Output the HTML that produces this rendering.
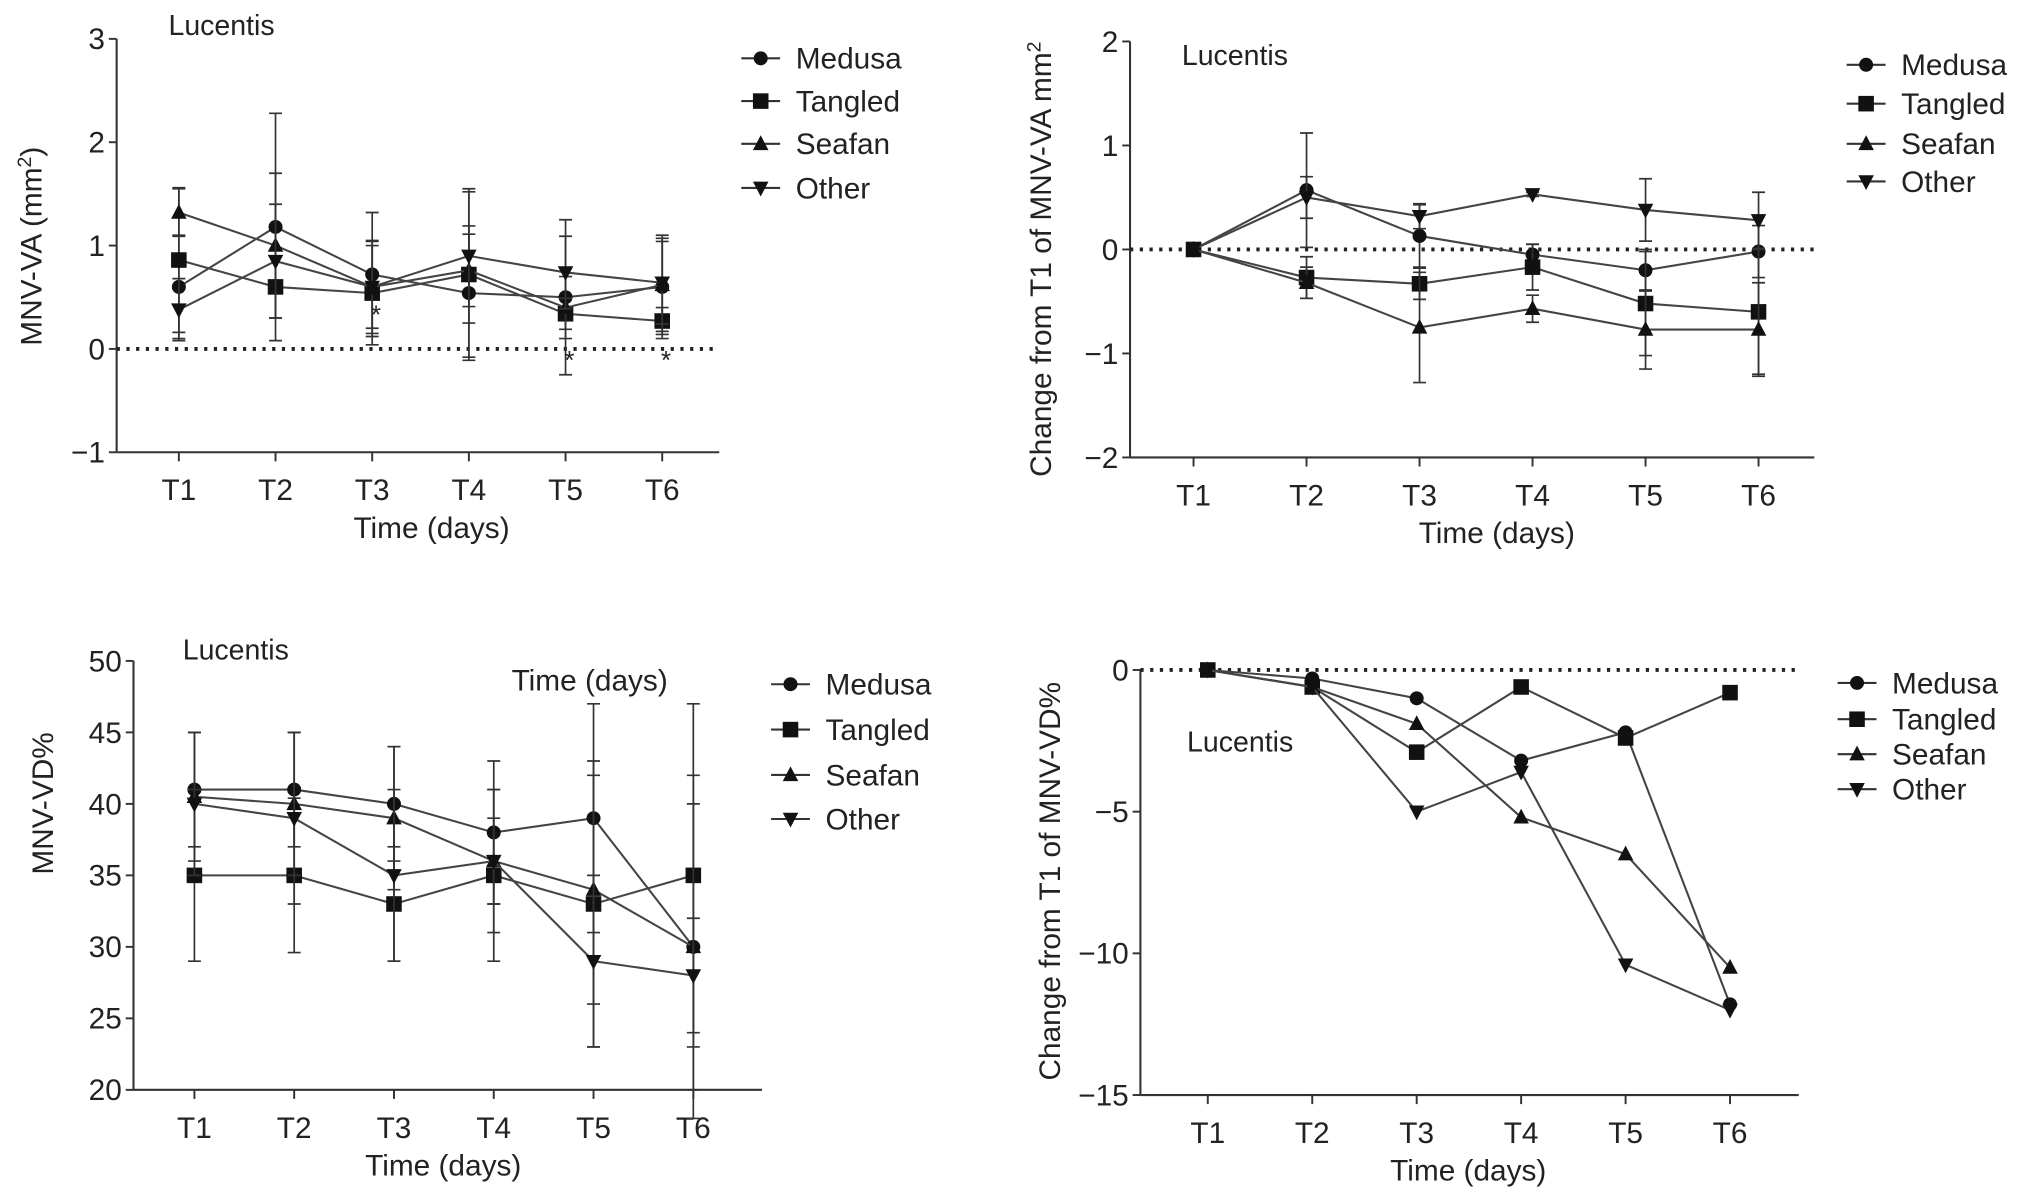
<!DOCTYPE html>
<html><head><meta charset="utf-8"><style>
html,body{margin:0;padding:0;background:#fff}
svg{display:block}
text{font-family:"Liberation Sans",sans-serif;fill:#222}
</style></head><body>
<svg id="fig" width="2032" height="1200" viewBox="0 0 1568 926" xmlns="http://www.w3.org/2000/svg"></svg>
<script>
const categories = ["T1","T2","T3","T4","T5","T6"];
const seriesNames = ["Medusa","Tangled","Seafan","Other"];
const markers = ["circle","square","up","down"];
// Panel A: MNV-VA
const aMedusa = [0.6,1.18,0.72,0.54,0.5,0.6];
const aTangled = [0.86,0.6,0.54,0.72,0.34,0.27];
const aSeafan = [1.32,1.0,0.6,0.76,0.4,0.62];
const aOther = [0.38,0.85,0.6,0.9,0.74,0.64];
const aErrMedusa = [0.5,1.1,0.6,0.65,0.75,0.5];
const aErrTangled = [0.7,0.3,0.5,0.8,0.15,0.13];
const aErrSeafan = [0.23,0.7,0.45,0.35,0.3,0.45];
const aErrOther = [0.3,0.55,0.4,0.65,0.35,0.4];
const aTicks = [3,2,1,0,-1];
const aTickLabels = ["3","2","1","0","\u22121"];
// Panel B: change MNV-VA
const bMedusa = [0,0.57,0.13,-0.05,-0.2,-0.02];
const bTangled = [0,-0.27,-0.33,-0.17,-0.52,-0.6];
const bSeafan = [0,-0.32,-0.75,-0.57,-0.77,-0.77];
const bOther = [0,0.5,0.32,0.53,0.38,0.28];
const bErrMedusa = [0,0.55,0.3,0.1,0.2,0.25];
const bErrTangled = [0,0.2,0.15,0.22,0.5,0.6];
const bErrSeafan = [0,0.15,0.53,0.13,0.38,0.45];
const bErrOther = [0,0.2,0.12,0.02,0.3,0.27];
const bTicks = [2,1,0,-1,-2];
const bTickLabels = ["2","1","0","\u22121","\u22122"];
// Panel C: MNV-VD%
const cMedusa = [41,41,40,38,39,30];
const cTangled = [35,35,33,35,33,35];
const cSeafan = [40.5,40,39,36,34,30];
const cOther = [40,39,35,36,29,28];
const cErrMedusa = [4,4,4,5,8,10];
const cErrTangled = [6,5.4,4,6,10,12];
const cErrSeafan = [4.5,5,5,5,8,12];
const cErrOther = [5,6,6,3,6,4];
const cTicks = [50,45,40,35,30,25,20];
const cTickLabels = ["50","45","40","35","30","25","20"];
// Panel D: change MNV-VD%
const dMedusa = [0,-0.3,-1,-3.2,-2.2,-11.8];
const dTangled = [0,-0.6,-2.9,-0.6,-2.4,-0.8];
const dSeafan = [0,-0.6,-1.9,-5.2,-6.5,-10.5];
const dOther = [0,-0.6,-5,-3.6,-10.4,-12];
const dTicks = [0,-5,-10,-15];
const dTickLabels = ["0","\u22125","\u221210","\u221215"];

const NS="http://www.w3.org/2000/svg";
const svg=document.getElementById('fig');
function el(tag,attrs,parent){const e=document.createElementNS(NS,tag);for(const k in attrs)e.setAttribute(k,attrs[k]);(parent||svg).appendChild(e);return e;}
function txt(s,attrs,parent){const t=el('text',attrs,parent);t.textContent=s;return t;}
function marker(g,type,x,y,s){
  let m;
  if(type==="circle") m=el('circle',{cx:x,cy:y,r:s*0.9,fill:'#111'},g);
  else if(type==="square") m=el('rect',{x:x-s,y:y-s,width:2*s,height:2*s,fill:'#111'},g);
  else if(type==="up") m=el('polygon',{points:`${x},${y-s*1.1} ${x-s},${y+s*0.8} ${x+s},${y+s*0.8}`,fill:'#111'},g);
  else m=el('polygon',{points:`${x},${y+s*1.1} ${x-s},${y-s*0.8} ${x+s},${y-s*0.8}`,fill:'#111'},g);
  return m;
}
function panel(cfg){
  const g=el('g',{});
  
  
  const ymin=cfg.ymin,ymax=cfg.ymax;
  const Y=v=>cfg.y1+(ymax-v)/(ymax-ymin)*(cfg.y0-cfg.y1);
  const X=i=>cfg.xt1+i*(cfg.xt6-cfg.xt1)/(categories.length-1);
  const ya=el('line',{x1:cfg.ax,y1:Y(ymax),x2:cfg.ax,y2:cfg.y0,stroke:'#333','stroke-width':1.6},g);
  
  const xa=el('line',{x1:cfg.ax,y1:cfg.y0,x2:cfg.axEnd,y2:cfg.y0,stroke:'#333','stroke-width':1.6},g);
  
  cfg.ticks.forEach((v,i)=>{
    el('line',{x1:cfg.ax-6,y1:Y(v),x2:cfg.ax,y2:Y(v),stroke:'#333','stroke-width':1.5},g);
    const t=txt(cfg.tickLabels[i],{x:cfg.ax-9,y:Y(v)+8,'text-anchor':'end','font-size':23},g);
    
  });
  categories.forEach((c,i)=>{
    el('line',{x1:X(i),y1:cfg.y0,x2:X(i),y2:cfg.y0+7,stroke:'#333','stroke-width':1.5},g);
    const t=txt(c,{x:X(i),y:cfg.y0+37,'text-anchor':'middle','font-size':23},g);
    
  });
  if(cfg.zeroLine){
    el('line',{x1:cfg.ax,y1:Y(0),x2:cfg.axEnd,y2:Y(0),stroke:'#222','stroke-width':3,'stroke-dasharray':'2.5 5'},g);
  }
  const xt=txt('Time (days)',{x:cfg.xtx,y:cfg.y0+66,'text-anchor':'middle','font-size':23},g);
  
  const yt=txt(cfg.ytitle,{x:0,y:0,'text-anchor':'middle','font-size':23,transform:`translate(${cfg.ytx},${cfg.yty}) rotate(-90)`},g);
  
  if(cfg.ytitleSup){const ts=el('tspan',{dy:-8,'font-size':15},yt);ts.textContent=cfg.ytitleSup;const t2=el('tspan',{dy:8},yt);t2.textContent=cfg.ytitleEnd;}
  const lt=txt('Lucentis',{x:cfg.lx,y:cfg.ly,'font-size':22},g);
  
  cfg.series.forEach((vals,si)=>{
    const sg=el('g',{},g);
    
    
    if(cfg.errs){
      vals.forEach((v,i)=>{
        const e=cfg.errs[si][i]; if(!e) return;
        const eb=el('path',{d:`M${X(i)},${Y(v+e)}V${Y(v-e)}M${X(i)-5},${Y(v+e)}h10M${X(i)-5},${Y(v-e)}h10`,stroke:'#333','stroke-width':1.3,fill:'none'},sg);
        
      });
    }
    const pts=vals.map((v,i)=>X(i)+','+Y(v)).join(' ');
    const pl=el('polyline',{points:pts,fill:'none',stroke:'#444','stroke-width':1.6},sg);
    
    vals.forEach((v,i)=>{
      const m=marker(sg,markers[si],X(i),Y(v),6);
      
      
    });
  });
  const lg=el('g',{},g);
  
  seriesNames.forEach((n,i)=>{
    const y=cfg.legY[i];
    const eg=el('g',{},lg);
    
    el('line',{x1:cfg.legX,y1:y,x2:cfg.legX+30,y2:y,stroke:'#333','stroke-width':1.6},eg);
    marker(eg,markers[i],cfg.legX+15,y,6);
    txt(n,{x:cfg.legX+42,y:y+8,'font-size':23},eg);
  });
  if(cfg.extra) cfg.extra(g,X,Y);
}
panel({name:'panel-mnv-va',ax:90,axEnd:555,y1:30,y0:349,ymin:-1,ymax:3,xt1:138,xt6:511,
  ticks:aTicks,tickLabels:aTickLabels,zeroLine:true,xtx:333,ytx:32,yty:190,
  ytitle:'MNV-VA (mm',ytitleSup:'2',ytitleEnd:')',lx:130,ly:27,legX:572,legY:[45,78,111,145],
  series:[aMedusa,aTangled,aSeafan,aOther],errs:[aErrMedusa,aErrTangled,aErrSeafan,aErrOther],
  extra:(g,X,Y)=>{[[2,0.37],[4,-0.07],[5,-0.07]].forEach(p=>{const s=txt('*',{x:X(p[0])+3,y:Y(p[1])+10,'text-anchor':'middle','font-size':20},g);});}});
panel({name:'panel-change-mnv-va',ax:872,axEnd:1400,y1:32,y0:353,ymin:-2,ymax:2,xt1:921,xt6:1357,
  ticks:bTicks,tickLabels:bTickLabels,zeroLine:true,xtx:1155,ytx:811,yty:200,
  ytitle:'Change from T1 of MNV-VA mm',ytitleSup:'2',ytitleEnd:'',lx:912,ly:50,legX:1425,legY:[50,80,111,140],
  series:[bMedusa,bTangled,bSeafan,bOther],errs:[bErrMedusa,bErrTangled,bErrSeafan,bErrOther]});
panel({name:'panel-mnv-vd',ax:103,axEnd:588,y1:510,y0:841,ymin:20,ymax:50,xt1:150,xt6:535,
  ticks:cTicks,tickLabels:cTickLabels,zeroLine:false,xtx:342,ytx:41,yty:620,
  ytitle:'MNV-VD%',lx:141,ly:509,legX:595,legY:[528,563,598,632],
  series:[cMedusa,cTangled,cSeafan,cOther],errs:[cErrMedusa,cErrTangled,cErrSeafan,cErrOther],
  extra:(g)=>{const t=txt('Time (days)',{x:455,y:533,'text-anchor':'middle','font-size':23},g);}});
panel({name:'panel-change-mnv-vd',ax:880,axEnd:1388,y1:517,y0:845,ymin:-15,ymax:0,xt1:932,xt6:1335,
  ticks:dTicks,tickLabels:dTickLabels,zeroLine:true,xtx:1133,ytx:818,yty:680,
  ytitle:'Change from T1 of MNV-VD%',lx:916,ly:580,legX:1418,legY:[527,555,582,609],
  series:[dMedusa,dTangled,dSeafan,dOther],errs:null});
</script>
</body></html>
